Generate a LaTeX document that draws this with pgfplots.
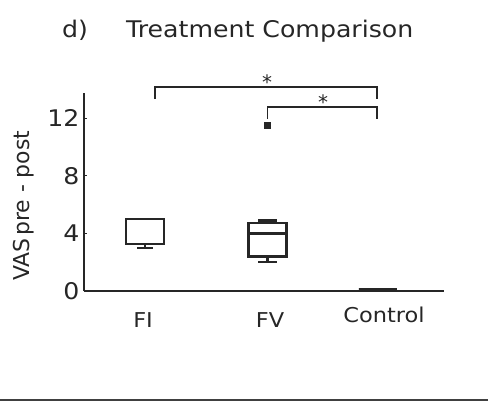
\documentclass[border=0pt]{standalone}
\usepackage{fontspec}
\setmainfont{DejaVu Sans}
\newfontfamily\stretched{DejaVu Sans}[FakeStretch=1.1]
\usepackage{pgfplots}
\pgfplotsset{compat=1.18}
\usepgfplotslibrary{statistics}
\begin{document}
\begin{tikzpicture}[x=1bp,y=1bp]
\path[use as bounding box] (0,0) rectangle (498,402);
\node[anchor=base west,inner sep=0pt,font=\stretched\fontsize{23}{27}\selectfont,text=black!85] at (62,365) {d)};
\node[anchor=base west,inner sep=0pt,font=\stretched\fontsize{23}{27}\selectfont,text=black!85] at (126,365) {Treatment Comparison};
\draw[line width=1.8bp,black!75] (0,2) -- (488,2);
\begin{axis}[
  at={(84bp,111bp)}, anchor=south west,
  scale only axis, width=360bp, height=198bp,
  xmin=0.502, xmax=3.44, ymin=0, ymax=13.75,
  axis x line=bottom, axis y line=left,
  axis line style={-, line width=1.5bp, black!85},
  clip=false,
  /pgf/number format/assume math mode=true,
  ytick={0,4,8,12},
  xtick={0.984,2.02,2.95},
  xticklabels={FI,FV,\raisebox{5bp}{Control}},
  tick align=inside,
  major tick length=3bp,
  major tick style={line width=1bp, black!85},
  x tick style={draw=none},
  yticklabel style={font=\stretched\fontsize{23}{27}\selectfont, text=black!85, xshift=-1bp},
  xticklabel style={font=\stretched\fontsize{20.5}{24}\selectfont, text=black!85, anchor=base, yshift=-36bp},
  ylabel={VAS\kern0.12em pre - post},
  ylabel style={font=\fontsize{22}{26}\selectfont, text=black!85, anchor=center, at={(axis description cs:-0.167,0.43)}},
  boxplot/draw direction=y,
]
\addplot+[black!85, line width=2.3bp, solid, mark=square*, mark size=2.5bp, mark options={fill=black!85,draw=black!85},
  boxplot prepared={draw position=1, box extend=0.31, whisker extend=0.13,
    lower whisker=3.0, lower quartile=3.25, median=5.0, upper quartile=5.0, upper whisker=5.0}]
  coordinates {};
\addplot+[black!85, line width=2.3bp, solid, mark=square*, mark size=2.5bp, mark options={fill=black!85,draw=black!85},
  boxplot prepared={draw position=2, box extend=0.31, whisker extend=0.15,
    lower whisker=2.0, lower quartile=2.4, median=4.0, upper quartile=4.7, upper whisker=4.9}]
  table[row sep=\\, y index=0] {11.5\\};
\addplot+[black!85, line width=2.3bp, solid, mark=none,
  boxplot prepared={draw position=2.9, box extend=0.31, whisker extend=0.15,
    lower whisker=0.1, lower quartile=0.1, median=0.1, upper quartile=0.1, upper whisker=0.1}]
  coordinates {};
\draw[line width=1.5bp, black!85] (axis cs:1.082,13.33) -- (axis cs:1.082,14.17) -- (axis cs:2.894,14.17) -- (axis cs:2.894,13.33);
\node[font=\fontsize{20}{24}\selectfont, text=black!85] at (axis cs:1.996,14.5) {*};
\draw[line width=1.5bp, black!85] (axis cs:2.0,11.94) -- (axis cs:2.0,12.78) -- (axis cs:2.894,12.78) -- (axis cs:2.894,11.94);
\node[font=\fontsize{20}{24}\selectfont, text=black!85] at (axis cs:2.453,13.1) {*};
\end{axis}
\end{tikzpicture}
\end{document}
